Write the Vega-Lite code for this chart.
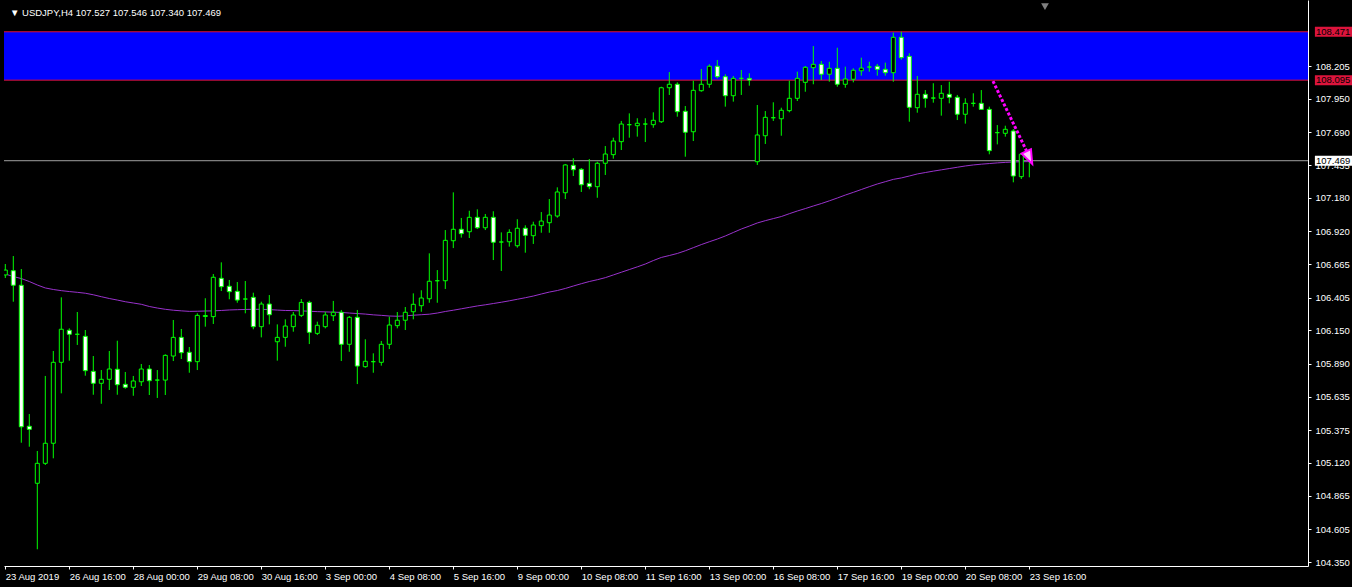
{
"$schema": "https://vega.github.io/schema/vega-lite/v6.json",
"autosize": {"type": "none"},
"width": 1304,
"height": 566,
"padding": {"left": 4, "top": 0, "right": 44, "bottom": 21},
"background": "#000000",
"title": {"text": "▼ USDJPY,H4  107.527 107.546 107.340 107.469", "anchor": "start", "frame": "group", "orient": "top", "offset": 0, "dx": 6, "dy": 25, "baseline": "alphabetic", "color": "#FFFFFF", "font": "Liberation Sans", "fontSize": 9.5, "fontWeight": "normal"},
"datasets": {
"candles": [
{"i":0,"o":106.581,"h":106.666,"l":106.557,"c":106.619,"ma":106.588},
{"i":1,"o":106.614,"h":106.728,"l":106.373,"c":106.501,"ma":106.569},
{"i":2,"o":106.501,"h":106.627,"l":105.277,"c":105.401,"ma":106.553},
{"i":3,"o":105.405,"h":105.500,"l":105.246,"c":105.381,"ma":106.530},
{"i":4,"o":104.962,"h":105.213,"l":104.449,"c":105.117,"ma":106.503},
{"i":5,"o":105.117,"h":105.796,"l":105.104,"c":105.273,"ma":106.480},
{"i":6,"o":105.273,"h":105.990,"l":105.156,"c":105.902,"ma":106.468},
{"i":7,"o":105.902,"h":106.407,"l":105.661,"c":106.159,"ma":106.459},
{"i":8,"o":106.151,"h":106.166,"l":105.915,"c":106.120,"ma":106.452},
{"i":9,"o":106.120,"h":106.293,"l":106.037,"c":106.120,"ma":106.446},
{"i":10,"o":106.104,"h":106.153,"l":105.798,"c":105.837,"ma":106.439},
{"i":11,"o":105.832,"h":105.951,"l":105.650,"c":105.739,"ma":106.427},
{"i":12,"o":105.739,"h":105.842,"l":105.580,"c":105.770,"ma":106.412},
{"i":13,"o":105.770,"h":105.990,"l":105.687,"c":105.850,"ma":106.398},
{"i":14,"o":105.848,"h":106.070,"l":105.650,"c":105.728,"ma":106.386},
{"i":15,"o":105.731,"h":105.827,"l":105.697,"c":105.708,"ma":106.373},
{"i":16,"o":105.708,"h":105.796,"l":105.642,"c":105.757,"ma":106.363},
{"i":17,"o":105.751,"h":105.889,"l":105.718,"c":105.850,"ma":106.353},
{"i":18,"o":105.850,"h":105.881,"l":105.648,"c":105.759,"ma":106.336},
{"i":19,"o":105.764,"h":105.842,"l":105.625,"c":105.764,"ma":106.324},
{"i":20,"o":105.764,"h":105.964,"l":105.648,"c":105.956,"ma":106.314},
{"i":21,"o":105.951,"h":106.231,"l":105.912,"c":106.096,"ma":106.307},
{"i":22,"o":106.096,"h":106.161,"l":105.928,"c":105.977,"ma":106.302},
{"i":23,"o":105.980,"h":106.021,"l":105.821,"c":105.907,"ma":106.298},
{"i":24,"o":105.907,"h":106.283,"l":105.842,"c":106.267,"ma":106.299},
{"i":25,"o":106.258,"h":106.400,"l":106.179,"c":106.266,"ma":106.301},
{"i":26,"o":106.257,"h":106.588,"l":106.200,"c":106.563,"ma":106.302},
{"i":27,"o":106.555,"h":106.679,"l":106.456,"c":106.490,"ma":106.305},
{"i":28,"o":106.493,"h":106.542,"l":106.392,"c":106.451,"ma":106.309},
{"i":29,"o":106.454,"h":106.526,"l":106.365,"c":106.386,"ma":106.311},
{"i":30,"o":106.394,"h":106.534,"l":106.283,"c":106.394,"ma":106.313},
{"i":31,"o":106.407,"h":106.443,"l":106.159,"c":106.179,"ma":106.314},
{"i":32,"o":106.179,"h":106.373,"l":106.096,"c":106.355,"ma":106.314},
{"i":33,"o":106.355,"h":106.425,"l":106.197,"c":106.272,"ma":106.312},
{"i":34,"o":106.062,"h":106.197,"l":105.915,"c":106.096,"ma":106.308},
{"i":35,"o":106.096,"h":106.236,"l":106.023,"c":106.184,"ma":106.305},
{"i":36,"o":106.179,"h":106.293,"l":106.140,"c":106.270,"ma":106.304},
{"i":37,"o":106.267,"h":106.394,"l":106.254,"c":106.368,"ma":106.302},
{"i":38,"o":106.368,"h":106.381,"l":106.044,"c":106.135,"ma":106.299},
{"i":39,"o":106.127,"h":106.218,"l":106.114,"c":106.190,"ma":106.296},
{"i":40,"o":106.179,"h":106.295,"l":106.166,"c":106.270,"ma":106.294},
{"i":41,"o":106.264,"h":106.379,"l":106.223,"c":106.291,"ma":106.292},
{"i":42,"o":106.291,"h":106.309,"l":105.912,"c":106.042,"ma":106.290},
{"i":43,"o":106.042,"h":106.262,"l":105.984,"c":106.252,"ma":106.285},
{"i":44,"o":106.252,"h":106.309,"l":105.733,"c":105.873,"ma":106.281},
{"i":45,"o":105.868,"h":106.081,"l":105.860,"c":105.910,"ma":106.277},
{"i":46,"o":105.907,"h":105.972,"l":105.821,"c":105.907,"ma":106.271},
{"i":47,"o":105.902,"h":106.068,"l":105.876,"c":106.042,"ma":106.267},
{"i":48,"o":106.042,"h":106.257,"l":106.005,"c":106.192,"ma":106.262},
{"i":49,"o":106.187,"h":106.293,"l":106.166,"c":106.229,"ma":106.260},
{"i":50,"o":106.229,"h":106.332,"l":106.153,"c":106.291,"ma":106.263},
{"i":51,"o":106.295,"h":106.438,"l":106.236,"c":106.353,"ma":106.268},
{"i":52,"o":106.342,"h":106.462,"l":106.295,"c":106.402,"ma":106.272},
{"i":53,"o":106.396,"h":106.749,"l":106.365,"c":106.532,"ma":106.276},
{"i":54,"o":106.536,"h":106.619,"l":106.365,"c":106.536,"ma":106.285},
{"i":55,"o":106.536,"h":106.930,"l":106.472,"c":106.850,"ma":106.297},
{"i":56,"o":106.847,"h":107.223,"l":106.790,"c":106.936,"ma":106.307},
{"i":57,"o":106.936,"h":107.024,"l":106.871,"c":106.902,"ma":106.318},
{"i":58,"o":106.917,"h":107.080,"l":106.868,"c":107.029,"ma":106.329},
{"i":59,"o":107.029,"h":107.091,"l":106.938,"c":106.948,"ma":106.340},
{"i":60,"o":106.948,"h":107.055,"l":106.930,"c":107.029,"ma":106.349},
{"i":61,"o":107.029,"h":107.076,"l":106.697,"c":106.835,"ma":106.359},
{"i":62,"o":106.837,"h":106.912,"l":106.612,"c":106.837,"ma":106.369},
{"i":63,"o":106.839,"h":106.936,"l":106.801,"c":106.912,"ma":106.380},
{"i":64,"o":106.808,"h":107.014,"l":106.793,"c":106.944,"ma":106.392},
{"i":65,"o":106.944,"h":106.967,"l":106.754,"c":106.889,"ma":106.404},
{"i":66,"o":106.886,"h":106.995,"l":106.822,"c":106.969,"ma":106.417},
{"i":67,"o":106.964,"h":107.070,"l":106.909,"c":107.000,"ma":106.433},
{"i":68,"o":106.987,"h":107.171,"l":106.909,"c":107.047,"ma":106.448},
{"i":69,"o":107.039,"h":107.262,"l":107.026,"c":107.226,"ma":106.460},
{"i":70,"o":107.220,"h":107.443,"l":107.171,"c":107.436,"ma":106.476},
{"i":71,"o":107.433,"h":107.488,"l":107.350,"c":107.399,"ma":106.495},
{"i":72,"o":107.402,"h":107.412,"l":107.226,"c":107.282,"ma":106.513},
{"i":73,"o":107.293,"h":107.482,"l":107.247,"c":107.267,"ma":106.530},
{"i":74,"o":107.267,"h":107.461,"l":107.181,"c":107.449,"ma":106.544},
{"i":75,"o":107.449,"h":107.583,"l":107.358,"c":107.521,"ma":106.560},
{"i":76,"o":107.516,"h":107.648,"l":107.485,"c":107.622,"ma":106.581},
{"i":77,"o":107.617,"h":107.778,"l":107.552,"c":107.754,"ma":106.602},
{"i":78,"o":107.749,"h":107.837,"l":107.648,"c":107.749,"ma":106.623},
{"i":79,"o":107.741,"h":107.799,"l":107.656,"c":107.760,"ma":106.644},
{"i":80,"o":107.754,"h":107.799,"l":107.614,"c":107.754,"ma":106.666},
{"i":81,"o":107.749,"h":107.845,"l":107.725,"c":107.783,"ma":106.693},
{"i":82,"o":107.772,"h":108.044,"l":107.762,"c":108.036,"ma":106.717},
{"i":83,"o":108.036,"h":108.158,"l":107.980,"c":108.063,"ma":106.732},
{"i":84,"o":108.063,"h":108.078,"l":107.811,"c":107.850,"ma":106.748},
{"i":85,"o":107.853,"h":107.894,"l":107.500,"c":107.690,"ma":106.769},
{"i":86,"o":107.694,"h":108.091,"l":107.622,"c":108.016,"ma":106.793},
{"i":87,"o":108.013,"h":108.182,"l":108.005,"c":108.063,"ma":106.817},
{"i":88,"o":108.063,"h":108.218,"l":108.036,"c":108.203,"ma":106.839},
{"i":89,"o":108.203,"h":108.252,"l":108.109,"c":108.122,"ma":106.860},
{"i":90,"o":108.122,"h":108.141,"l":107.889,"c":107.974,"ma":106.884},
{"i":91,"o":107.974,"h":108.127,"l":107.928,"c":108.109,"ma":106.911},
{"i":92,"o":108.109,"h":108.174,"l":107.980,"c":108.109,"ma":106.938},
{"i":93,"o":108.109,"h":108.148,"l":108.052,"c":108.096,"ma":106.961},
{"i":94,"o":107.461,"h":107.902,"l":107.436,"c":107.669,"ma":106.985},
{"i":95,"o":107.663,"h":107.855,"l":107.599,"c":107.806,"ma":107.003},
{"i":96,"o":107.803,"h":107.923,"l":107.778,"c":107.803,"ma":107.019},
{"i":97,"o":107.795,"h":107.881,"l":107.663,"c":107.861,"ma":107.035},
{"i":98,"o":107.858,"h":108.091,"l":107.845,"c":107.954,"ma":107.057},
{"i":99,"o":107.954,"h":108.161,"l":107.933,"c":108.109,"ma":107.078},
{"i":100,"o":108.078,"h":108.205,"l":108.005,"c":108.195,"ma":107.097},
{"i":101,"o":108.192,"h":108.360,"l":108.063,"c":108.218,"ma":107.117},
{"i":102,"o":108.218,"h":108.244,"l":108.096,"c":108.141,"ma":107.136},
{"i":103,"o":108.141,"h":108.238,"l":108.083,"c":108.187,"ma":107.157},
{"i":104,"o":108.187,"h":108.347,"l":108.044,"c":108.063,"ma":107.179},
{"i":105,"o":108.063,"h":108.200,"l":108.036,"c":108.104,"ma":107.202},
{"i":106,"o":108.102,"h":108.187,"l":108.078,"c":108.172,"ma":107.223},
{"i":107,"o":108.168,"h":108.270,"l":108.130,"c":108.189,"ma":107.245},
{"i":108,"o":108.197,"h":108.238,"l":108.161,"c":108.197,"ma":107.267},
{"i":109,"o":108.203,"h":108.221,"l":108.130,"c":108.179,"ma":107.288},
{"i":110,"o":108.179,"h":108.231,"l":108.130,"c":108.153,"ma":107.306},
{"i":111,"o":108.153,"h":108.465,"l":108.083,"c":108.428,"ma":107.324},
{"i":112,"o":108.428,"h":108.471,"l":108.254,"c":108.270,"ma":107.335},
{"i":113,"o":108.280,"h":108.304,"l":107.772,"c":107.884,"ma":107.350},
{"i":114,"o":107.881,"h":108.127,"l":107.842,"c":107.985,"ma":107.366},
{"i":115,"o":107.985,"h":108.018,"l":107.881,"c":107.954,"ma":107.377},
{"i":116,"o":107.956,"h":108.071,"l":107.920,"c":107.956,"ma":107.388},
{"i":117,"o":107.954,"h":108.057,"l":107.819,"c":107.993,"ma":107.398},
{"i":118,"o":107.985,"h":108.083,"l":107.915,"c":107.962,"ma":107.408},
{"i":119,"o":107.962,"h":107.980,"l":107.785,"c":107.830,"ma":107.418},
{"i":120,"o":107.830,"h":107.954,"l":107.757,"c":107.915,"ma":107.428},
{"i":121,"o":107.915,"h":107.993,"l":107.889,"c":107.915,"ma":107.436},
{"i":122,"o":107.915,"h":108.018,"l":107.863,"c":107.868,"ma":107.442},
{"i":123,"o":107.868,"h":107.889,"l":107.519,"c":107.547,"ma":107.447},
{"i":124,"o":107.687,"h":107.746,"l":107.596,"c":107.687,"ma":107.452},
{"i":125,"o":107.682,"h":107.741,"l":107.656,"c":107.713,"ma":107.456},
{"i":126,"o":107.700,"h":107.715,"l":107.301,"c":107.350,"ma":107.459},
{"i":127,"o":107.345,"h":107.527,"l":107.327,"c":107.519,"ma":107.461},
{"i":128,"o":107.527,"h":107.546,"l":107.340,"c":107.469,"ma":107.462}
],
"zone": [{"top": 108.471, "bottom": 108.095}],
"levels": [{"p": 108.471, "kind": "line"}, {"p": 108.095, "kind": "line"}, {"p": 107.469, "kind": "current"}],
"arrow": [{"i": 123.46, "p": 108.088}, {"i": 128.0, "p": 107.50}],
"arrowhead": [{"i": 127.9, "p": 107.505}],
"shift": [{"i": 129.96, "p": 108.667}]
},
"layer": [
{"data": {"name": "zone"}, "mark": {"type": "rect", "color": "#0000FF"},
 "encoding": {"y": {"field": "top", "type": "quantitative", "scale": {"domain": [104.319, 108.718], "nice": false, "zero": false, "padding": 0}}, "y2": {"field": "bottom"}}},
{"data": {"name": "levels"}, "transform": [{"filter": "datum.kind == 'line'"}], "mark": {"type": "rule", "color": "#E0102A", "strokeWidth": 1},
 "encoding": {"y": {"field": "p", "type": "quantitative", "scale": {"domain": [104.319, 108.718], "nice": false, "zero": false, "padding": 0}}}},
{"data": {"name": "levels"}, "transform": [{"filter": "datum.kind == 'current'"}], "mark": {"type": "rule", "color": "#A0A0A0", "strokeWidth": 1},
 "encoding": {"y": {"field": "p", "type": "quantitative", "scale": {"domain": [104.319, 108.718], "nice": false, "zero": false, "padding": 0}}}},
{"data": {"name": "candles"}, "mark": {"type": "line", "color": "#9932CC", "strokeWidth": 1, "clip": true},
 "encoding": {"x": {"field": "i", "type": "quantitative", "scale": {"domain": [-0.1625, 162.8375], "nice": false, "zero": false, "padding": 0}},
  "y": {"field": "ma", "type": "quantitative", "scale": {"domain": [104.319, 108.718], "nice": false, "zero": false, "padding": 0}}}},
{"data": {"name": "candles"}, "mark": {"type": "rule", "color": "#00FF00", "strokeWidth": 1, "clip": true},
 "encoding": {
  "x": {"field": "i", "type": "quantitative", "scale": {"domain": [-0.1625, 162.8375], "nice": false, "zero": false, "padding": 0},
   "axis": {"orient": "bottom", "values": [0,8,16,24,32,40,48,56,64,72,80,88,96,104,112,120,128], "tickCount": 40,
    "labelExpr": "['23 Aug 2019','26 Aug 16:00','28 Aug 00:00','29 Aug 08:00','30 Aug 16:00','3 Sep 00:00','4 Sep 08:00','5 Sep 16:00','9 Sep 00:00','10 Sep 08:00','11 Sep 16:00','13 Sep 00:00','16 Sep 08:00','17 Sep 16:00','19 Sep 00:00','20 Sep 08:00','23 Sep 16:00'][round(datum.value / 8)]",
    "title": null, "grid": false, "labelAlign": "left", "labelBaseline": "top", "labelPadding": 2, "tickSize": 3,
    "domainColor": "#FFFFFF", "tickColor": "#FFFFFF", "labelColor": "#FFFFFF", "labelFont": "Liberation Sans", "labelFontSize": 9.5,
    "labelOverlap": false, "labelFlush": false, "labelBound": false}},
  "y": {"field": "l", "type": "quantitative", "scale": {"domain": [104.319, 108.718], "nice": false, "zero": false, "padding": 0},
   "axis": {"orient": "right", "values": [108.205, 107.950, 107.690, 107.435, 107.180, 106.920, 106.665, 106.405, 106.150, 105.890, 105.635, 105.375, 105.120, 104.865, 104.605, 104.350], "tickCount": 40,
    "format": ".3f", "title": null, "grid": false, "tickSize": 3, "labelPadding": 4, "labelAlign": "left", "labelBaseline": "middle",
    "domainColor": "#FFFFFF", "tickColor": "#FFFFFF", "labelColor": "#FFFFFF", "labelFont": "Liberation Sans", "labelFontSize": 9.5,
    "labelOverlap": false, "labelFlush": false, "labelBound": false}},
  "y2": {"field": "h"}}},
{"data": {"name": "candles"}, "mark": {"type": "bar", "size": 4, "stroke": "#00FF00", "strokeWidth": 1, "clip": true},
 "encoding": {
  "x": {"field": "i", "type": "quantitative", "scale": {"domain": [-0.1625, 162.8375], "nice": false, "zero": false, "padding": 0}},
  "y": {"field": "o", "type": "quantitative", "scale": {"domain": [104.319, 108.718], "nice": false, "zero": false, "padding": 0}},
  "y2": {"field": "c"},
  "fill": {"condition": {"test": "datum.c < datum.o", "value": "#FFFFFF"}, "value": "#000000"}}},
{"data": {"name": "arrow"}, "mark": {"type": "line", "color": "#FF00FF", "strokeWidth": 3, "strokeDash": [3, 2]},
 "encoding": {
  "x": {"field": "i", "type": "quantitative", "scale": {"domain": [-0.1625, 162.8375], "nice": false, "zero": false, "padding": 0}},
  "y": {"field": "p", "type": "quantitative", "scale": {"domain": [104.319, 108.718], "nice": false, "zero": false, "padding": 0}}}},
{"data": {"name": "arrowhead"}, "mark": {"type": "point", "shape": "M0.43,0.9L0.282,-0.798L-0.798,-0.282Z", "size": 300, "filled": true, "fill": "#FFC8FF", "stroke": "#FF00FF", "strokeWidth": 2, "opacity": 1},
 "encoding": {
  "x": {"field": "i", "type": "quantitative", "scale": {"domain": [-0.1625, 162.8375], "nice": false, "zero": false, "padding": 0}},
  "y": {"field": "p", "type": "quantitative", "scale": {"domain": [104.319, 108.718], "nice": false, "zero": false, "padding": 0}}}},
{"data": {"name": "shift"}, "mark": {"type": "point", "shape": "triangle-down", "size": 60, "filled": true, "color": "#808080", "opacity": 1},
 "encoding": {
  "x": {"field": "i", "type": "quantitative", "scale": {"domain": [-0.1625, 162.8375], "nice": false, "zero": false, "padding": 0}},
  "y": {"field": "p", "type": "quantitative", "scale": {"domain": [104.319, 108.718], "nice": false, "zero": false, "padding": 0}}}},
{"data": {"name": "levels"}, "mark": {"type": "bar", "orient": "horizontal", "size": 10, "clip": false},
 "encoding": {
  "x": {"datum": 163.7, "type": "quantitative", "scale": {"domain": [-0.1625, 162.8375], "nice": false, "zero": false, "padding": 0}},
  "x2": {"datum": 169.0},
  "y": {"field": "p", "type": "quantitative", "scale": {"domain": [104.319, 108.718], "nice": false, "zero": false, "padding": 0}},
  "color": {"condition": {"test": "datum.kind == 'current'", "value": "#FFFFFF"}, "value": "#DC143C"}}},
{"data": {"name": "levels"}, "mark": {"type": "text", "align": "left", "baseline": "middle", "color": "#000000", "font": "Liberation Sans", "fontSize": 9.5, "clip": false},
 "encoding": {
  "x": {"datum": 163.84, "type": "quantitative", "scale": {"domain": [-0.1625, 162.8375], "nice": false, "zero": false, "padding": 0}},
  "y": {"field": "p", "type": "quantitative", "scale": {"domain": [104.319, 108.718], "nice": false, "zero": false, "padding": 0}},
  "text": {"field": "p", "type": "quantitative", "format": ".3f"}}}
],
"config": {"view": {"stroke": null}, "axis": {"domainWidth": 1, "tickWidth": 1, "labelOverlap": false, "labelSeparation": 0}}
}
